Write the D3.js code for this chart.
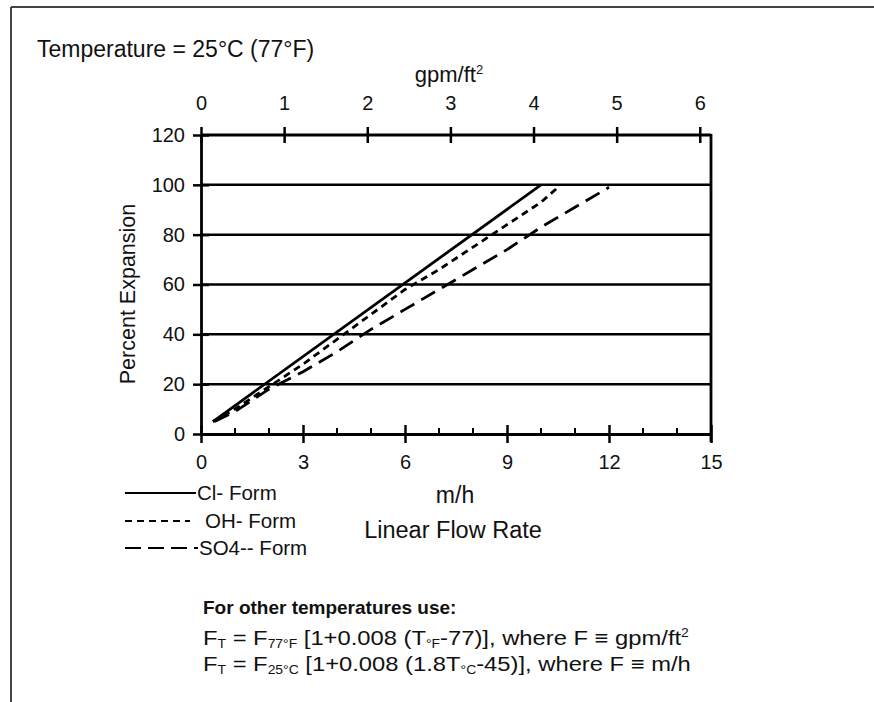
<!DOCTYPE html>
<html>
<head>
<meta charset="utf-8">
<script src="https://cdn.jsdelivr.net/npm/d3@7/dist/d3.min.js"></script>
<style>
  html, body { margin: 0; padding: 0; background: #fff; }
  svg { display: block; }
  text { font-family: "Liberation Sans", Arial, Helvetica, sans-serif; fill: #111; }
</style>
</head>
<body>
<svg id="chart" width="874" height="702"></svg>
<script>
// Bed expansion vs. linear flow rate, three resin forms at 25 °C
const clFlow  = [0.35, 10];
const clExp   = [5, 100];
const ohFlow  = [0.35, 1, 2, 3, 4, 5, 6, 7, 8, 9, 10, 10.5];
const ohExp   = [5, 10, 19, 28, 38, 48, 58, 66, 75, 84, 93, 99];
const so4Flow = [0.4, 1, 2, 3, 4, 5, 6, 7, 8, 9, 10, 11, 12];
const so4Exp  = [5, 9, 18, 25, 33, 42, 50, 58, 66, 74, 83, 91, 99];

const seriesNames = ["Cl- Form", "OH- Form", "SO4-- Form"];
const yTicks = [0, 20, 40, 60, 80, 100, 120];
const xMajorTicks = [0, 3, 6, 9, 12, 15];
const xMinorTicks = [1, 2, 4, 5, 7, 8, 10, 11, 13, 14];
const gpmTicks = [0, 1, 2, 3, 4, 5, 6];
const M_PER_H_PER_GPM_FT2 = 2.445;

const FONT = "Liberation Sans, Arial, Helvetica, sans-serif";
const svg = d3.select("#chart");
const plot = { left: 201, right: 711, top: 135, bottom: 434 };

const x = d3.scaleLinear().domain([0, 15]).range([plot.left, plot.right]);
const y = d3.scaleLinear().domain([0, 120]).range([plot.bottom, plot.top]);
const xg = d3.scaleLinear().domain([0, 15 / M_PER_H_PER_GPM_FT2]).range([plot.left, plot.right]);

// page frame
svg.append("line").attr("x1", 11).attr("x2", 874).attr("y1", 7).attr("y2", 7)
  .attr("stroke", "#444").attr("stroke-width", 2);
svg.append("line").attr("x1", 11).attr("x2", 11).attr("y1", 7).attr("y2", 702)
  .attr("stroke", "#444").attr("stroke-width", 2);

svg.append("text").attr("x", 37).attr("y", 57).attr("font-size", 23)
  .text("Temperature = 25°C (77°F)");

// horizontal gridlines
svg.append("g").selectAll("line").data(yTicks.filter(d => d > 0)).join("line")
  .attr("x1", plot.left).attr("x2", plot.right)
  .attr("y1", d => y(d)).attr("y2", d => y(d))
  .attr("stroke", "#000").attr("stroke-width", d => d === 120 ? 3 : 2.5);

// left axis
const yAxis = d3.axisLeft(y).tickValues(yTicks).tickSizeInner(8).tickSizeOuter(0).tickPadding(8);
const gy = svg.append("g").attr("transform", `translate(${plot.left},0)`).call(yAxis);
gy.select(".domain").attr("stroke-width", 2.8);
gy.selectAll(".tick line").attr("x2", 8).attr("x1", -8).attr("stroke-width", 2.5);
gy.selectAll(".tick text").attr("font-size", 20).attr("font-family", FONT).attr("fill", "#111");

// right border
svg.append("line").attr("x1", plot.right).attr("x2", plot.right).attr("y1", plot.top - 1).attr("y2", plot.bottom + 8)
  .attr("stroke", "#000").attr("stroke-width", 2.8);

// bottom axis (m/h)
const xAxis = d3.axisBottom(x).tickValues(xMajorTicks).tickSizeInner(8).tickSizeOuter(0).tickPadding(13);
const gx = svg.append("g").attr("transform", `translate(0,${plot.bottom})`).call(xAxis);
gx.select(".domain").attr("stroke-width", 2.8);
gx.selectAll(".tick line").attr("y1", -9).attr("y2", 9).attr("stroke-width", 2.5);
gx.selectAll(".tick text").attr("font-size", 20).attr("font-family", FONT).attr("fill", "#111");
svg.append("g").selectAll("line").data(xMinorTicks).join("line")
  .attr("x1", d => x(d)).attr("x2", d => x(d))
  .attr("y1", plot.bottom).attr("y2", plot.bottom - 6)
  .attr("stroke", "#000").attr("stroke-width", 2);

// top axis (gpm/ft²)
const xgAxis = d3.axisTop(xg).tickValues(gpmTicks).tickFormat(d3.format("d"))
  .tickSizeInner(8).tickSizeOuter(0).tickPadding(17);
const gt = svg.append("g").attr("transform", `translate(0,${plot.top})`).call(xgAxis);
gt.select(".domain").remove();
gt.selectAll(".tick line").attr("y1", -8).attr("y2", 8).attr("stroke-width", 2.5);
gt.selectAll(".tick text").attr("font-size", 20).attr("font-family", FONT).attr("fill", "#111");

// axis titles
const gpmTitle = svg.append("text").attr("x", 449).attr("y", 82).attr("font-size", 22)
  .attr("text-anchor", "middle");
gpmTitle.append("tspan").text("gpm/ft");
gpmTitle.append("tspan").attr("font-size", 13).attr("dy", -8).text("2");

svg.append("text").attr("transform", "translate(135,294) rotate(-90)")
  .attr("text-anchor", "middle").attr("font-size", 21.5).text("Percent Expansion");

svg.append("text").attr("x", 455).attr("y", 503).attr("text-anchor", "middle")
  .attr("font-size", 23).text("m/h");
svg.append("text").attr("x", 453).attr("y", 538).attr("text-anchor", "middle")
  .attr("font-size", 23.5).text("Linear Flow Rate");

// series
const line = d3.line().x(d => x(d[0])).y(d => y(d[1]));
const series = [
  { pts: d3.zip(clFlow, clExp), dash: null },
  { pts: d3.zip(ohFlow, ohExp), dash: "7,5" },
  { pts: d3.zip(so4Flow, so4Exp), dash: "16,8" }
];
svg.append("g").selectAll("path").data(series).join("path")
  .attr("d", d => line(d.pts))
  .attr("fill", "none").attr("stroke", "#000").attr("stroke-width", 2.8)
  .attr("stroke-dasharray", d => d.dash);

// legend
const legend = [
  { name: seriesNames[0], y: 493, x2: 196, tx: 197, dash: null },
  { name: seriesNames[1], y: 521, x2: 190, tx: 205, dash: "7,5" },
  { name: seriesNames[2], y: 548, x2: 198, tx: 199, dash: "16,7" }
];
const lg = svg.append("g").selectAll("g").data(legend).join("g");
lg.append("line").attr("x1", 125).attr("x2", d => d.x2)
  .attr("y1", d => d.y).attr("y2", d => d.y)
  .attr("stroke", "#000").attr("stroke-width", 2.2)
  .attr("stroke-dasharray", d => d.dash);
lg.append("text").attr("x", d => d.tx).attr("y", d => d.y + 7)
  .attr("font-size", 20.5).text(d => d.name);

// temperature correction note
svg.append("text").attr("x", 203).attr("y", 614).attr("font-size", 19)
  .attr("font-weight", "bold").text("For other temperatures use:");

// correction formulas, set in a slightly widened face
function formula(yPos, parts) {
  const t = svg.append("text")
    .attr("transform", `translate(203,${yPos}) scale(1.16,1)`)
    .attr("font-size", 20.5);
  parts.forEach(p => {
    const s = t.append("tspan").text(p[0]);
    if (p[1] === "sub") s.attr("font-size", 12).attr("dy", 3);
    else if (p[1] === "sup") s.attr("font-size", 12).attr("dy", -8);
    if (p[2]) s.attr("dy", p[2]);
  });
}
formula(645, [["F"], ["T", "sub"], [" = F", null, -3], ["77°F", "sub"], [" [1+0.008 (T", null, -3],
  ["°F", "sub"], ["-77)], where F ≡ gpm/ft", null, -3], ["2", "sup"]]);
formula(671, [["F"], ["T", "sub"], [" = F", null, -3], ["25°C", "sub"], [" [1+0.008 (1.8T", null, -3],
  ["°C", "sub"], ["-45)], where F ≡ m/h", null, -3]]);
</script>
</body>
</html>
